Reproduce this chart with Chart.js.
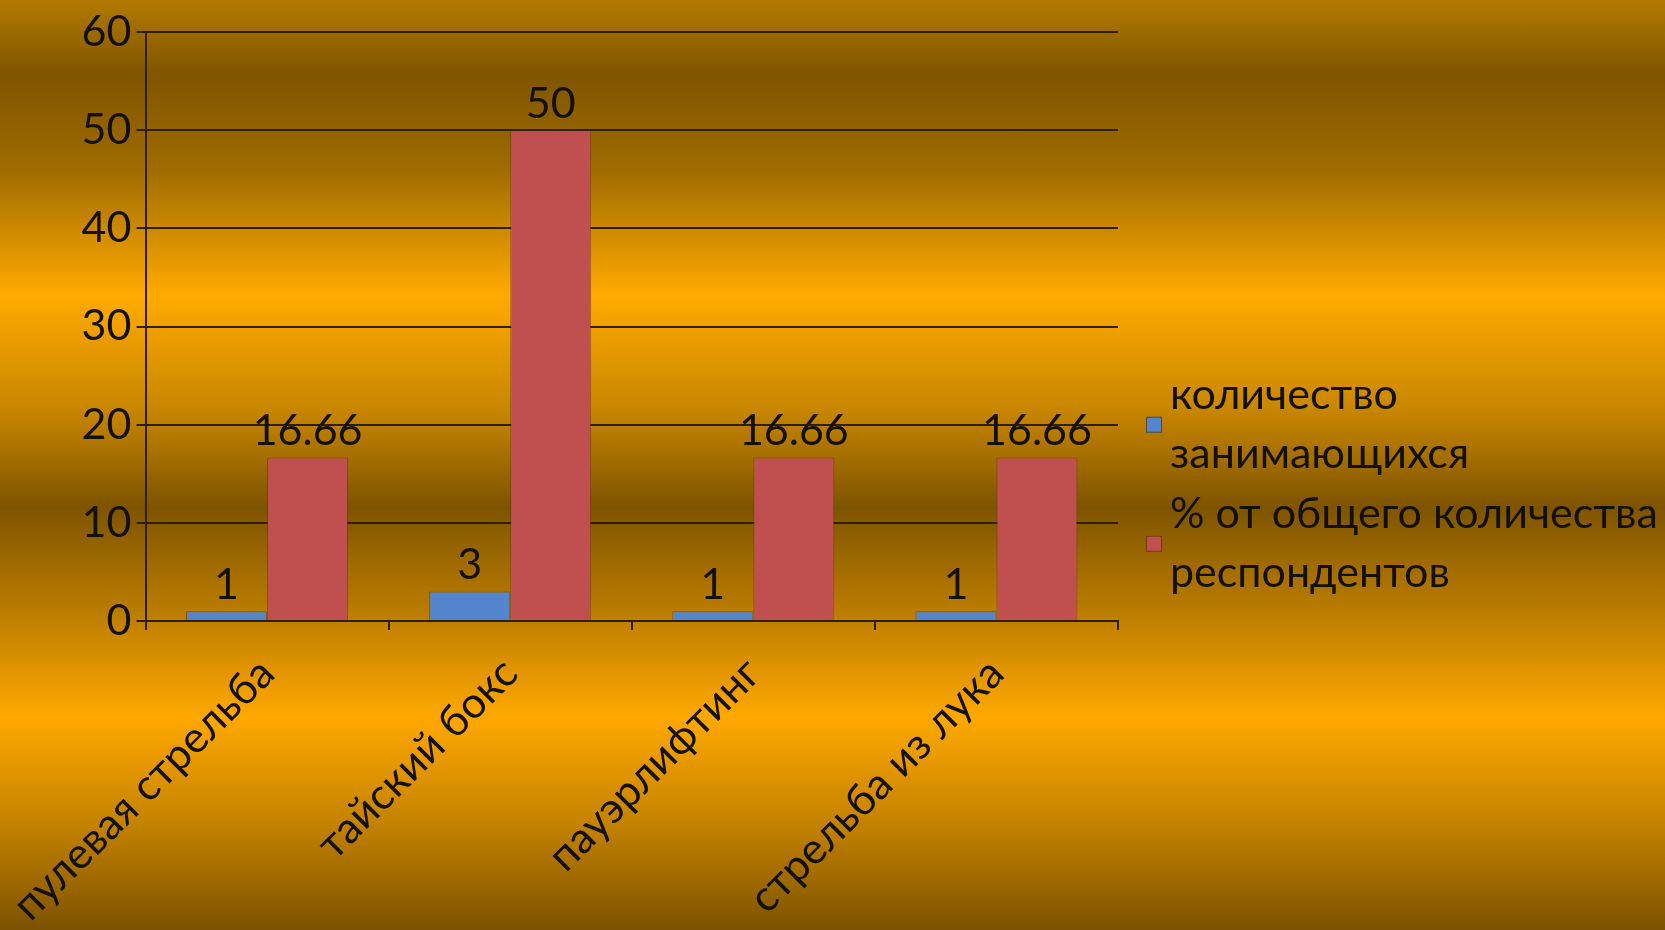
<!DOCTYPE html>
<html><head><meta charset="utf-8">
<script src="https://cdn.jsdelivr.net/npm/chart.js@4"></script>
<style>
html,body{margin:0;padding:0;width:1665px;height:930px;overflow:hidden;}
body{background:linear-gradient(to bottom,#b27a00 0px,#7f5500 75px,#a06c00 170px,#ffaa00 295px,#c88600 410px,#7e5400 507px,#c08000 620px,#ffa800 717px,#c08000 830px,#7c5200 930px);}
#wrap{position:absolute;left:0;top:0;width:1665px;height:930px;}
</style></head><body>
<div id="wrap"><canvas id="c" width="1665" height="930"></canvas></div>
<script>
const categories = ["пулевая стрельба","тайский бокс","пауэрлифтинг","стрельба из лука"];
const countValues = [1,3,1,1];
const percentValues = [16.66,50,16.66,16.66];
const countLabels = ["1","3","1","1"];
const percentLabels = ["16.66","50","16.66","16.66"];
const seriesNames = [["количество","занимающихся"],["% от общего количества","респондентов"]];
const yTicks = [0,10,20,30,40,50,60];

const FONT = "Lato, 'Open Sans', sans-serif";
const FS = 43;
const TXT = '#141000';
const GRID = '#2e1f00';

const valueLabels = {
  id:'valueLabels',
  afterDatasetsDraw(chart){
    const ctx = chart.ctx;
    ctx.save();
    ctx.font = FS+'px '+FONT;
    ctx.fillStyle = TXT;
    ctx.textAlign='center';
    ctx.textBaseline='bottom';
    const lbls=[countLabels,percentLabels];
    chart.data.datasets.forEach((ds,i)=>{
      chart.getDatasetMeta(i).data.forEach((bar,j)=>{
        ctx.fillText(lbls[i][j], bar.x, bar.y-5);
      });
    });
    ctx.restore();
  }
};
const sideLegend = {
  id:'sideLegend',
  afterDraw(chart){
    const ctx = chart.ctx;
    ctx.save();
    ctx.font = FS+'px '+FONT;
    ctx.fillStyle = TXT;
    ctx.textAlign='left';
    ctx.textBaseline='middle';
    const x0 = chart.chartArea.right + 28;
    const lineH = 59.5;
    let y = 395;
    chart.data.datasets.forEach((ds,i)=>{
      const lines = seriesNames[i];
      const cy = y + (lines.length-1)*lineH/2;
      ctx.fillStyle = ds.backgroundColor;
      ctx.fillRect(x0, cy-8, 16, 16);
      ctx.strokeStyle = 'rgba(90,55,0,0.8)';
      ctx.lineWidth=1;
      ctx.strokeRect(x0+0.5, cy-7.5, 15, 15);
      ctx.fillStyle = TXT;
      lines.forEach((t,k)=>{ ctx.fillText(t, x0+24, y + k*lineH); });
      y += lines.length*lineH;
    });
    ctx.restore();
  }
};

new Chart(document.getElementById('c'), {
  type:'bar',
  data:{
    labels:categories,
    datasets:[
      {label:seriesNames[0].join(' '), data:countValues, backgroundColor:'#5585cc', borderColor:'rgba(70,60,40,0.55)', borderWidth:1},
      {label:seriesNames[1].join(' '), data:percentValues, backgroundColor:'#c0504f', borderColor:'rgba(90,50,20,0.55)', borderWidth:1}
    ]
  },
  options:{
    responsive:false,
    animation:false,
    layout:{padding:{left:0,right:547,top:32,bottom:0}},
    datasets:{bar:{categoryPercentage:2/3, barPercentage:1}},
    plugins:{legend:{display:false}, tooltip:{enabled:false}},
    scales:{
      x:{
        afterFit(s){ s.height = 309; s.paddingLeft = 0; s.paddingRight = 0; },
        grid:{display:true, drawOnChartArea:false, drawTicks:true, tickLength:9, offset:true, color:GRID, lineWidth:2},
        border:{display:true,color:GRID,width:2},
        ticks:{color:TXT, font:{family:FONT,size:FS}, minRotation:45, maxRotation:45, autoSkip:false, padding:18}
      },
      y:{
        min:0,max:60,
        afterFit(s){ s.width = 145.5; s.paddingTop = 0; s.paddingBottom = 0; },
        afterBuildTicks(s){ s.ticks = yTicks.map(v=>({value:v})); },
        grid:{color:GRID, lineWidth:2, drawTicks:true, tickLength:9},
        border:{display:true,color:GRID,width:2},
        ticks:{color:TXT, font:{family:FONT,size:FS}, padding:5}
      }
    }
  },
  plugins:[valueLabels, sideLegend]
});
</script>
</body></html>
